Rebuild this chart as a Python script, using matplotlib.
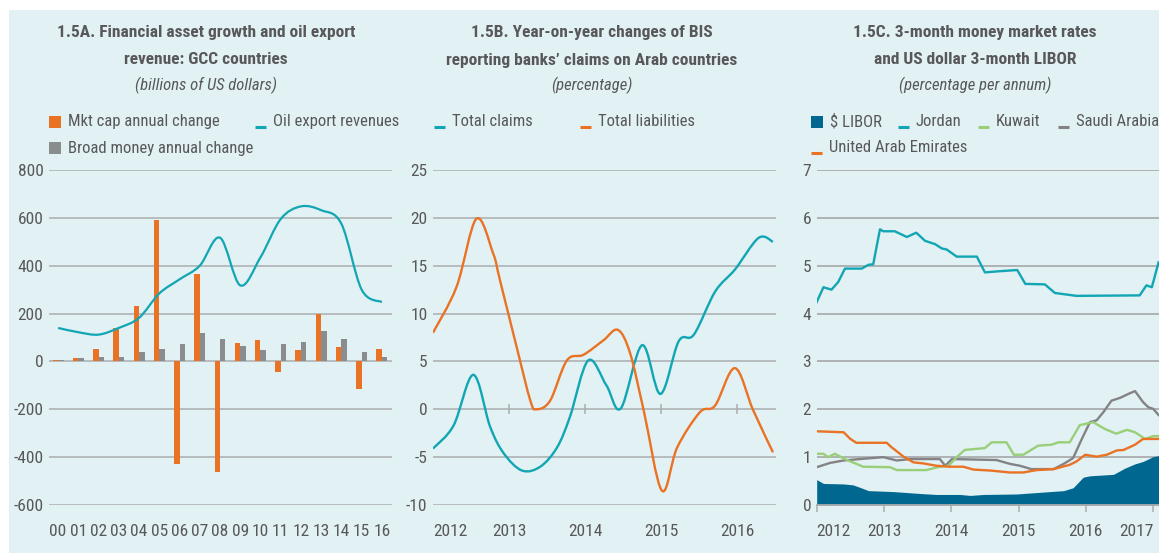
import numpy as np
import matplotlib
matplotlib.use("Agg")
import matplotlib.pyplot as plt
from matplotlib import font_manager as fm
from matplotlib.path import Path
from matplotlib.patches import PathPatch, Rectangle
from matplotlib.lines import Line2D

# ---- Panel A data (billions of US dollars) ----
years_a = ["00", "01", "02", "03", "04", "05", "06", "07", "08", "09",
           "10", "11", "12", "13", "14", "15", "16"]
mkt_cap = [7, 13, 53, 141, 231, 590, -429, 365, -460, 77, 91, -45, 46, 200, 60, -115, 50]
broad_money = [7, 13, 20, 20, 41, 50, 71, 119, 94, 63, 46, 71, 81, 129, 94, 41, 17]
oil_exports = [140, 122, 112, 140, 182, 284, 343, 400, 517, 318, 435, 595, 648, 632, 575, 300, 248]

# ---- Panel B data (percentage) ----
liab_t = [2012.00, 2012.31, 2012.57, 2012.79, 2012.88, 2013.10, 2013.28, 2013.36, 2013.54,
          2013.76, 2013.98, 2014.24, 2014.43, 2014.59, 2014.77, 2015.01, 2015.21, 2015.51,
          2015.71, 2015.97, 2016.21, 2016.47]
liab_v = [8.0, 12.8, 19.9, 16.3, 13.5, 6.5, 0.9, 0.0, 0.9,
          5.1, 5.7, 7.2, 8.3, 5.9, -0.1, -8.5, -4.0, -0.3,
          0.4, 4.3, -0.1, -4.5]
claims_t = [2012.00, 2012.27, 2012.53, 2012.75, 2012.93, 2013.17, 2013.41, 2013.63, 2013.80,
            2014.04, 2014.28, 2014.47, 2014.75, 2014.99, 2015.23, 2015.43, 2015.71, 2015.97,
            2016.28, 2016.47]
claims_v = [-4.1, -1.7, 3.6, -1.8, -4.6, -6.4, -6.0, -4.0, -0.8,
            5.1, 2.5, 0.1, 6.7, 1.6, 7.1, 7.8, 12.3, 14.6,
            17.9, 17.5]

# ---- Panel C data (percentage per annum) ----
jordan_t = [2012.00, 2012.10, 2012.22, 2012.32, 2012.42, 2012.67, 2012.77, 2012.84, 2012.94,
            2012.99, 2013.16, 2013.34, 2013.48, 2013.61, 2013.76, 2013.86, 2013.93, 2014.08,
            2014.38, 2014.50, 2014.67, 2014.98, 2015.10, 2015.39, 2015.54, 2015.86, 2016.80,
            2016.90, 2016.98, 2017.08]
jordan_v = [4.24, 4.55, 4.50, 4.66, 4.94, 4.94, 5.02, 5.03, 5.76,
            5.72, 5.72, 5.60, 5.69, 5.52, 5.45, 5.36, 5.34, 5.19,
            5.19, 4.86, 4.88, 4.91, 4.62, 4.61, 4.43, 4.37, 4.38,
            4.59, 4.55, 5.07]
uae_t = [2012.00, 2012.40, 2012.50, 2012.59, 2013.04, 2013.11, 2013.21, 2013.29, 2013.44,
         2013.58, 2013.78, 2013.98, 2014.18, 2014.33, 2014.58, 2014.87, 2015.07, 2015.27,
         2015.52, 2015.76, 2015.86, 2015.99, 2016.16, 2016.31, 2016.46, 2016.56, 2016.73,
         2016.85, 2017.08]
uae_v = [1.54, 1.52, 1.38, 1.30, 1.30, 1.21, 1.10, 1.01, 0.89,
         0.87, 0.82, 0.80, 0.80, 0.74, 0.72, 0.68, 0.68, 0.73,
         0.75, 0.84, 0.91, 1.05, 1.01, 1.05, 1.14, 1.15, 1.26,
         1.38, 1.38]
kuwait_t = [2012.00, 2012.10, 2012.17, 2012.27, 2012.45, 2012.59, 2012.69, 2013.09, 2013.19,
            2013.63, 2013.83, 2013.96, 2014.08, 2014.20, 2014.50, 2014.60, 2014.82, 2014.93,
            2015.07, 2015.29, 2015.49, 2015.59, 2015.76, 2015.91, 2016.11, 2016.28, 2016.45,
            2016.61, 2016.73, 2016.88, 2017.00, 2017.08]
kuwait_v = [1.07, 1.07, 1.00, 1.07, 0.94, 0.86, 0.80, 0.79, 0.73,
            0.73, 0.80, 0.82, 1.00, 1.15, 1.19, 1.31, 1.31, 1.05,
            1.05, 1.24, 1.26, 1.31, 1.31, 1.67, 1.73, 1.59, 1.49,
            1.57, 1.52, 1.38, 1.44, 1.44]
saudi_t = [2012.00, 2012.20, 2012.40, 2012.64, 2012.99, 2013.19, 2013.39, 2013.83, 2013.91,
           2014.01, 2014.67, 2014.87, 2015.02, 2015.19, 2015.52, 2015.67, 2015.81, 2015.94,
           2016.06, 2016.16, 2016.26, 2016.38, 2016.51, 2016.63, 2016.73, 2016.85, 2016.93,
           2017.00, 2017.08]
saudi_v = [0.79, 0.88, 0.93, 0.96, 1.00, 0.93, 0.96, 0.96, 0.82,
           0.96, 0.94, 0.86, 0.82, 0.75, 0.75, 0.86, 0.98, 1.38,
           1.73, 1.77, 1.94, 2.18, 2.24, 2.32, 2.38, 2.15, 2.04,
           2.01, 1.88]
libor_t = [2012.00, 2012.10, 2012.40, 2012.54, 2012.64, 2012.77, 2013.14, 2013.54, 2013.78,
           2014.13, 2014.28, 2014.48, 2014.97, 2015.37, 2015.67, 2015.81, 2015.96, 2016.06,
           2016.41, 2016.58, 2016.73, 2016.85, 2017.00, 2017.08]
libor_v = [0.53, 0.45, 0.44, 0.42, 0.37, 0.30, 0.28, 0.24, 0.22,
           0.22, 0.20, 0.22, 0.23, 0.27, 0.30, 0.36, 0.58, 0.61,
           0.64, 0.77, 0.86, 0.91, 1.01, 1.03]

# ---- fonts: use a narrow face if one is installed, else Roboto ----
names = {f.name for f in fm.fontManager.ttflist}
stretch = "normal"
if "Liberation Sans Narrow" in names:
    family, k = "Liberation Sans Narrow", 1.0
elif "Roboto Condensed" in names:
    family, k = "Roboto Condensed", 1.0
elif any(f.name == "DejaVu Sans" and f.stretch == "condensed" for f in fm.fontManager.ttflist):
    family, k, stretch = "DejaVu Sans", 0.85, "condensed"
else:
    family, k = "Roboto", 0.86
plt.rcParams["font.family"] = [family, "DejaVu Sans"]
plt.rcParams["font.stretch"] = stretch
plt.rcParams["axes.unicode_minus"] = False

# ---- styling ----
BG = "#E1F1F4"
TEAL = "#12A6B5"
ORANGE = "#EA7224"
BARGREY = "#8B8C8E"
GREEN = "#99CF78"
SGREY = "#838385"
NAVY = "#006890"
GRID = "#ABADAF"
TXT = "#58585A"
FS_TITLE = 12.5 * k
FS_LEG = 12 * k
FS_TICK = 12.5 * k

W, H = 1159, 553


def fx(px):
    return px / W


def fy(py):
    return 1 - py / H


def smooth_path(x, y):
    # Catmull-Rom through the read points, drawn as cubic bezier segments
    pts = np.column_stack([x, y]).astype(float)
    verts = [pts[0]]
    codes = [Path.MOVETO]
    n = len(pts)
    for i in range(n - 1):
        p0 = pts[i - 1] if i > 0 else pts[i]
        p1, p2 = pts[i], pts[i + 1]
        p3 = pts[i + 2] if i + 2 < n else pts[i + 1]
        verts += [p1 + (p2 - p0) / 6, p2 - (p3 - p1) / 6, p2]
        codes += [Path.CURVE4] * 3
    return Path(verts, codes)


def make_axes(fig, left, right, top=170, bottom=505):
    ax = fig.add_axes([fx(left), fy(bottom), fx(right) - fx(left), fy(top) - fy(bottom)])
    ax.set_facecolor("none")
    for s in ax.spines.values():
        s.set_visible(False)
    ax.tick_params(axis="y", length=0, pad=4, labelsize=FS_TICK, labelcolor=TXT)
    ax.tick_params(axis="x", length=0, labelsize=FS_TICK, labelcolor=TXT)
    return ax


def title(fig, cx, line1, line2, sub):
    fig.text(fx(cx), fy(33), line1, ha="center", va="center", fontsize=FS_TITLE,
             fontweight="bold", color=TXT)
    fig.text(fx(cx), fy(60), line2, ha="center", va="center", fontsize=FS_TITLE,
             fontweight="bold", color=TXT)
    fig.text(fx(cx), fy(85), sub, ha="center", va="center", fontsize=FS_LEG,
             style="italic", color=TXT)


def legend_square(fig, x, y, color, label):
    fig.patches.append(Rectangle((fx(x), fy(y + 6)), 12 / W, 12 / H, transform=fig.transFigure,
                                 facecolor=color, edgecolor="none"))
    fig.text(fx(x + 19), fy(y), label, ha="left", va="center", fontsize=FS_LEG, color=TXT)


def legend_dash(fig, x, y, color, label):
    fig.lines.append(Line2D([fx(x), fx(x + 11)], [fy(y + 5), fy(y + 5)], transform=fig.transFigure,
                            color=color, lw=2.2, solid_capstyle="butt"))
    fig.text(fx(x + 18), fy(y), label, ha="left", va="center", fontsize=FS_LEG, color=TXT)


fig = plt.figure(figsize=(W / 100, H / 100), dpi=100, facecolor="white")
fig.patches.append(Rectangle((fx(9), 0), 1, fy(10), transform=fig.transFigure,
                             facecolor=BG, edgecolor="none", zorder=-5))

# ================= Panel A =================
ax = make_axes(fig, 49, 392)
x = np.arange(len(years_a))
w = 0.27
for yv in range(-600, 801, 200):
    ax.axhline(yv, color=GRID, lw=1.1, zorder=1)
ax.bar(x - w / 2, mkt_cap, w, color=ORANGE, zorder=2)
ax.bar(x + w / 2, broad_money, w, color=BARGREY, zorder=2)
ax.add_patch(PathPatch(smooth_path(x, oil_exports), fill=False, edgecolor=TEAL, lw=1.6, zorder=3))
ax.set_xlim(-0.45, 16.5)
ax.set_ylim(-600, 800)
ax.set_yticks(range(-600, 801, 200))
ax.set_xticks(x)
ax.set_xticklabels(years_a)
ax.tick_params(axis="x", pad=14)
title(fig, 206, "1.5A. Financial asset growth and oil export", "revenue: GCC countries",
      "(billions of US dollars)")
legend_square(fig, 49, 122, ORANGE, "Mkt cap annual change")
legend_dash(fig, 255, 122, TEAL, "Oil export revenues")
legend_square(fig, 49, 148, BARGREY, "Broad money annual change")

# ================= Panel B =================
ax = make_axes(fig, 433, 776)
for yv in range(-10, 26, 5):
    ax.axhline(yv, color=GRID, lw=1.1, zorder=1)
tick_years = [2012, 2013, 2014, 2015, 2016]
ax.plot(tick_years[1:], [0] * 4, ls="none", marker="|", ms=7, mew=1.1, color=GRID, zorder=1)
ax.add_patch(PathPatch(smooth_path(claims_t, claims_v), fill=False, edgecolor=TEAL, lw=1.7, zorder=3))
ax.add_patch(PathPatch(smooth_path(liab_t, liab_v), fill=False, edgecolor=ORANGE, lw=1.7, zorder=3))
ax.set_xlim(2012, 2016.51)
ax.set_ylim(-10, 25)
ax.set_yticks(range(-10, 26, 5))
ax.set_xticks(tick_years)
ax.set_xticklabels([str(t) for t in tick_years])
ax.get_xticklabels()[0].set_ha("left")
ax.tick_params(axis="x", pad=14)
title(fig, 592, "1.5B. Year-on-year changes of BIS", "reporting banks\u2019 claims on Arab countries",
      "(percentage)")
legend_dash(fig, 434, 122, TEAL, "Total claims")
legend_dash(fig, 580, 122, ORANGE, "Total liabilities")

# ================= Panel C =================
ax = make_axes(fig, 816.7, 1170)
for yv in range(1, 8):
    ax.axhline(yv, color=GRID, lw=1.3, zorder=1)
ax.fill_between(libor_t, 0, libor_v, color=NAVY, lw=0, zorder=2)
ax.plot(jordan_t, jordan_v, color=TEAL, lw=1.7, zorder=3)
ax.plot(saudi_t, saudi_v, color=SGREY, lw=1.7, zorder=3)
ax.plot(kuwait_t, kuwait_v, color=GREEN, lw=1.7, zorder=3)
ax.plot(uae_t, uae_v, color=ORANGE, lw=1.7, zorder=3)
ax.spines["bottom"].set_visible(True)
ax.spines["bottom"].set_color(GRID)
ax.spines["bottom"].set_linewidth(1.3)
ax.set_xlim(2012, 2017.25)
ax.set_ylim(0, 7)
ax.set_yticks(range(0, 8))
c_years = [2012, 2013, 2014, 2015, 2016, 2017]
ax.set_xticks(c_years)
ax.set_xticklabels([str(t) for t in c_years])
ax.get_xticklabels()[0].set_ha("left")
ax.get_xticklabels()[-1].set_ha("right")
ax.tick_params(axis="x", length=5, width=1.1, color=GRID, pad=9)
title(fig, 975, "1.5C. 3-month money market rates", "and US dollar 3-month LIBOR",
      "(percentage per annum)")
legend_square(fig, 811, 122, NAVY, "$ LIBOR")
legend_dash(fig, 898, 122, TEAL, "Jordan")
legend_dash(fig, 978, 122, GREEN, "Kuwait")
legend_dash(fig, 1058, 122, SGREY, "Saudi Arabia")
legend_dash(fig, 811, 148, ORANGE, "United Arab Emirates")

fig.savefig("out.png", dpi=100, facecolor="white")
